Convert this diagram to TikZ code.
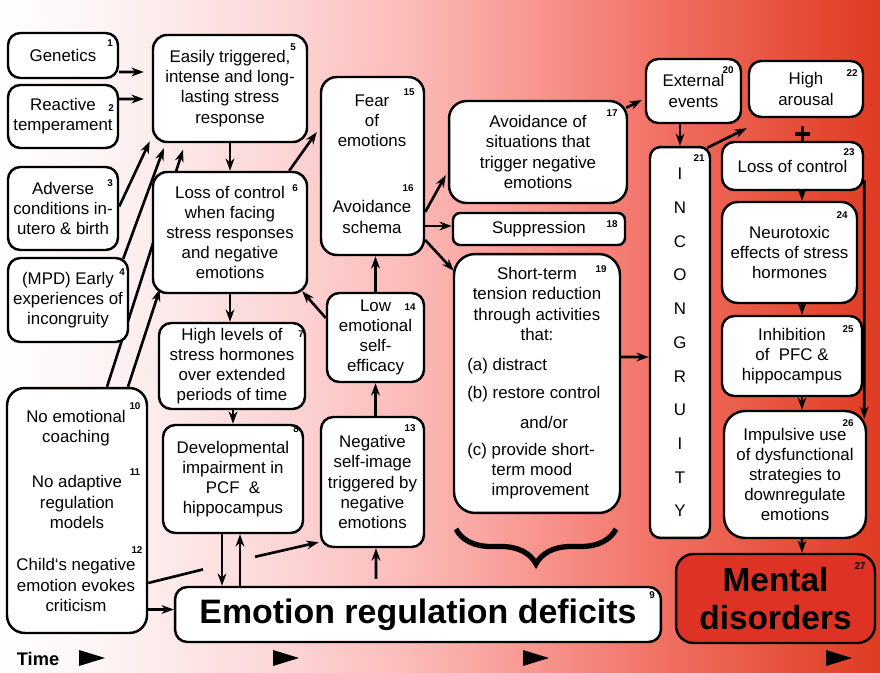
\documentclass[tikz,border=0pt]{standalone}
\usepackage{fontspec}
\setmainfont{Liberation Sans}
\usetikzlibrary{arrows.meta,calc,decorations.pathreplacing}
\pgfdeclarelayer{bg}
\pgfdeclarelayer{behind}
\pgfsetlayers{bg,behind,main}
\definecolor{bgA}{HTML}{FDF4F4}
\definecolor{bgB}{HTML}{FCE4E4}
\definecolor{bgC}{HTML}{FCD2D2}
\definecolor{bgD}{HTML}{FBBDBB}
\definecolor{bgE}{HTML}{F9A6A2}
\definecolor{bgF}{HTML}{F68E86}
\definecolor{bgG}{HTML}{F2766B}
\definecolor{bgH}{HTML}{EC6150}
\definecolor{bgI}{HTML}{E54E38}
\definecolor{bgJ}{HTML}{DF3B22}
\definecolor{mdred}{HTML}{DD3224}
\pgfdeclarehorizontalshading{timeshade}{100bp}{color(0bp)=(white); color(25bp)=(white); color(30.7bp)=(bgA); color(36.4bp)=(bgB); color(42bp)=(bgC); color(47.7bp)=(bgD); color(52.3bp)=(bgE); color(56.8bp)=(bgF); color(61.4bp)=(bgG); color(65.9bp)=(bgH); color(70.5bp)=(bgI); color(75bp)=(bgJ); color(100bp)=(bgJ)}
\newcommand\bodyfont{\fontsize{9.6}{11.5}\selectfont}

\begin{document}
\begin{tikzpicture}[x=0.02cm,y=-0.02cm,>={Stealth[length=7pt,width=5pt]},
    box/.style={draw,line width=1.4pt,rounded corners=7pt,fill=white,align=center,inner sep=0pt,font=\bodyfont},
    txt/.style={align=center,inner sep=0pt,font=\bodyfont},
    num/.style={inner sep=0pt,font=\fontsize{5.6}{6}\selectfont\bfseries},
    link/.style={->,line width=1.5pt}]
\begin{pgfonlayer}{bg}
\shade[shading=timeshade] (0,0) rectangle (880,673);
\end{pgfonlayer}

\node[box,minimum width=2.2cm,minimum height=0.9cm] (n1) at (63,55.5) {Genetics};
\node[box,minimum width=2.2cm,minimum height=1.26cm] (n2) at (63,116.5) {Reactive\\temperament};
\node[box,minimum width=2.2cm,minimum height=1.66cm] (n3) at (63,208.5) {Adverse\\conditions in-\\utero \& birth};
\node[box,minimum width=2.4cm,minimum height=1.68cm] (n4) at (68,300) {(MPD) Early\\experiences of\\incongruity};
\node[box,rounded corners=8pt,minimum width=3.08cm,minimum height=2.14cm] (n5) at (230,88.5) {Easily triggered,\\intense and long-\\lasting stress\\response};
\node[box,rounded corners=8pt,minimum width=3.08cm,minimum height=2.42cm] (n6) at (230,232.5) {Loss of control\\when facing\\stress responses\\and negative\\emotions};
\node[box,minimum width=2.92cm,minimum height=1.72cm] (n7) at (232,366) {High levels of\\stress hormones\\over extended\\periods of time};
\node[box,minimum width=2.8cm,minimum height=2.16cm] (n8) at (233,479) {Developmental\\impairment in\\PCF\ \ \&\\hippocampus};
\node[box,minimum width=9.72cm,minimum height=1.1cm,font=\fontsize{19.3}{22}\selectfont\bfseries] (n9) at (418,614.5) {Emotion regulation deficits};
\node[box,rounded corners=10pt,minimum width=2.8cm,minimum height=4.9cm] (n10) at (77,510.5) {};
\node[txt] (t10) at (76,428) {No emotional\\coaching};
\node[txt] (t11) at (77,502) {No adaptive\\regulation\\models};
\node[txt] (t12) at (76,585) {Child‘s negative\\emotion evokes\\criticism};
\node[box,minimum width=2.06cm,minimum height=2.6cm] (n13) at (372.5,482) {Negative\\self-image\\triggered by\\negative\\emotions};
\node[box,minimum width=1.94cm,minimum height=1.78cm] (n14) at (375.5,337.5) {Low\\emotional\\self-\\efficacy};
\node[box,rounded corners=9pt,minimum width=2.06cm,minimum height=3.56cm] (n15) at (372.5,166) {};
\node[txt] (t15) at (372,121) {Fear\\of\\emotions};
\node[txt] (t16) at (372,217) {Avoidance\\schema};
\node[box,rounded corners=10pt,minimum width=3.56cm,minimum height=2.04cm] (n17) at (538,152) {Avoidance of\\situations that\\trigger negative\\emotions};
\node[box,rounded corners=4pt,minimum width=3.44cm,minimum height=0.64cm] (n18) at (539,229) {Suppression};
\node[box,rounded corners=12pt,minimum width=3.32cm,minimum height=5.18cm] (n19) at (537,383.5) {};
\node[txt] (t19) at (537,304) {Short-term\\tension reduction\\through activities\\that:};
\node[txt,anchor=west] (t19a) at (467,366) {(a) distract};
\node[txt,anchor=west] (t19b) at (467,394) {(b) restore control};
\node[txt] (t19c) at (544,422) {and/or};
\node[txt,anchor=north west,align=left] (t19d) at (467,443) {(c) provide short-\\\phantom{(c) }term mood\\\phantom{(c) }improvement};
\node[box,minimum width=1.9cm,minimum height=1.28cm] (n20) at (693.5,91) {External\\events};
\node[box,rounded corners=6pt,minimum width=1.2cm,minimum height=7.82cm,font=\fontsize{9.6}{19.2}\selectfont] (n21) at (680,342.5) {I\\N\\C\\O\\N\\G\\R\\U\\I\\T\\Y};
\node[box,minimum width=2.28cm,minimum height=1.12cm] (n22) at (806,89) {High\\arousal};
\node[box,minimum width=2.82cm,minimum height=0.96cm] (n23) at (792.5,166) {Loss of control};
\node[box,rounded corners=9pt,minimum width=2.7cm,minimum height=2.02cm] (n24) at (789.5,252.5) {Neurotoxic\\effects of stress\\hormones};
\node[box,minimum width=2.8cm,minimum height=1.6cm] (n25) at (792,356) {Inhibition\\of\ \ PFC \&\\hippocampus};
\node[box,rounded corners=12pt,minimum width=2.84cm,minimum height=2.54cm] (n26) at (795,474.5) {Impulsive use\\of dysfunctional\\strategies to\\downregulate\\emotions};
\node[box,fill=mdred,rounded corners=10pt,minimum width=3.98cm,minimum height=1.78cm,font=\fontsize{19}{21.5}\selectfont\bfseries] (n27) at (775.5,598.5) {Mental\\disorders};

\foreach \k/\kx/\ky in {1/110/43,2/111/108,3/110/183,4/122/272,5/293/47,6/295/188,7/301/334,8/296/429,9/652/595,10/135/406,11/135/472,12/137/550,13/410/428,14/410/307,15/409/92,16/408/188,17/612/113,18/612/224,19/601/269,20/728/70,21/699/158,22/852/73,23/849/152,24/842/215,25/848/329,26/848/423,27/860/566}
    \node[num] (k\k) at (\kx,\ky) {\k};

\begin{pgfonlayer}{behind}
\draw[link] ($(n10.north)+(30,0)$) -- ($(n5.south)+(-47,6.5)$);
\end{pgfonlayer}
\draw[link] ($(n1.east)+(0,16.5)$) -- ($(n5.west)+(-8,-16.5)$);
\draw[link] ($(n2.east)+(0,-17.5)$) -- ($(n5.west)+(-8,10.5)$);
\draw[link] ($(n3.east)+(0,-2)$) -- ($(n5.south west)+(-2,-2)$);
\draw[link] ($(n4.north east)+(-6,2)$) -- ($(n5.south west)+(12,5)$);
\draw[link] ($(n10.north)+(51,0)$) -- ($(n6.south west)+(8,-5)$);
\draw[link] (n5.south) -- (n6.north);
\draw[link] (n6.south) -- ($(n7.north)+(-2,0)$);
\draw[link] ($(n7.south)+(1,0)$) -- (n8.north);
\draw[link] ($(n8.south)+(-11,0)$) -- ($(n9.north)+(-196,0)$);
\draw[link] ($(n9.north)+(-178,0)$) -- ($(n8.south)+(7,0)$);
\draw[link] ($(n10.east)+(0,99)$) -- ($(n9.west)+(0,-5)$);
\coordinate (g1) at (203,569.4);
\coordinate (g2) at (255,556.8);
\draw[link,-] ($(n10.east)+(0,72.5)$) -- (g1);
\draw[link] (g2) -- ($(n13.south west)+(-1,-6)$);
\draw[link] ($(n9.north)+(-42,-7)$) -- ($(n13.south)+(3.5,0)$);
\draw[link] ($(n13.north)+(3,0)$) -- (n14.south);
\draw[link] (n14.north) -- ($(n15.south)+(3,0)$);
\draw[link] ($(n14.west)+(0,-19.5)$) -- ($(n6.south east)+(-6,-3)$);
\draw[link] ($(n6.north east)+(-19,0)$) -- ($(n15.west)+(-3,-34)$);
\draw[link] ($(n15.east)+(0,46)$) -- ($(n17.west)+(-2,23)$);
\draw[link] ($(n15.east)+(0,60)$) -- ($(n18.west)+(0,-3)$);
\draw[link] ($(n15.east)+(0,74)$) -- ($(n19.north west)+(1,18)$);
\draw[link] ($(n17.north east)+(-2,8)$) -- ($(n20.west)+(-3,9)$);
\draw[link] ($(n20.south)+(-13.5,0)$) -- (n21.north);
\draw[link] ($(n21.north east)+(-4,2)$) -- ($(n22.south west)+(-1,10)$);
\draw[link] ($(n19.east)+(0,-26.5)$) -- ($(n21.west)+(0,14.5)$);
\draw[link] ($(n23.south)+(9.5,0)$) -- ($(n24.north)+(12.5,0)$);
\draw[link] ($(n24.south)+(12.5,0)$) -- ($(n25.north)+(10,0)$);
\draw[link] ($(n25.south)+(10,0)$) -- ($(n26.north)+(7,0)$);
\draw[link] ($(n26.south)+(7,0)$) -- ($(n27.north)+(26.5,0)$);
\draw[link] ($(n23.east)+(0,14)$) -- ($(n26.north east)+(-3,9)$);
\draw[line width=2.2pt] (795,134) -- (810,134) (802.5,126) -- (802.5,142);
\draw[line width=3pt,decorate,decoration={brace,amplitude=0.7cm}] (616,529) -- (456,529);

\node[inner sep=0pt,font=\fontsize{10.4}{12}\selectfont\bfseries] (time) at (38,659) {Time};
\foreach \tx in {79,273,523,826}
    \fill (\tx,650) -- ++(26,8) -- ++(-26,8) -- cycle;
\end{tikzpicture}
\end{document}
